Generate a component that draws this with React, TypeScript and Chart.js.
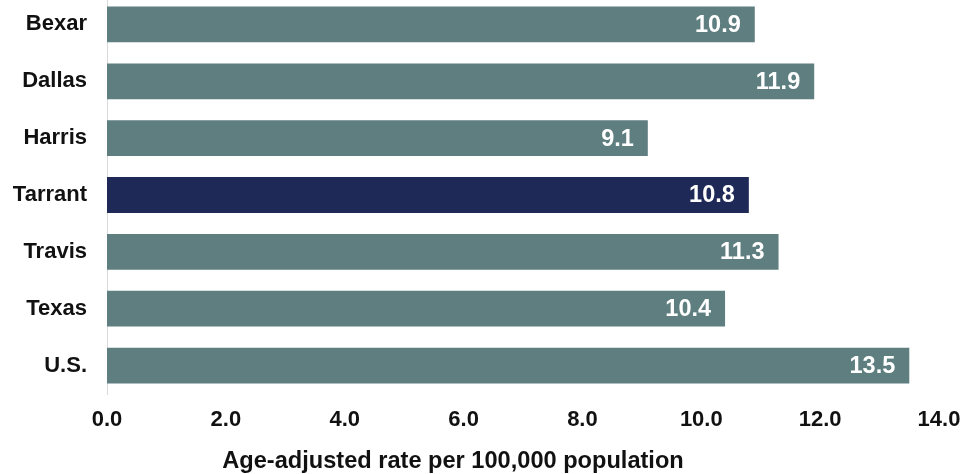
import React, { useEffect, useRef } from "react";
import { Chart, registerables } from "chart.js";

Chart.register(...registerables);

const categories = ["Bexar", "Dallas", "Harris", "Tarrant", "Travis", "Texas", "U.S."];
const rates = [10.9, 11.9, 9.1, 10.8, 11.3, 10.4, 13.5];
const highlighted = "Tarrant";
const xTicks = [0, 2, 4, 6, 8, 10, 12, 14];
const axisTitle = "Age-adjusted rate per 100,000 population";

const BAR_COLOR = "#5e7e7f";
const HIGHLIGHT_COLOR = "#1f2957";
const FONT_FAMILY = "'Liberation Sans', Arial, sans-serif";

// Writes each bar's value in white, right-aligned just inside the bar end.
const valueLabels = {
  id: "valueLabels",
  afterDatasetsDraw(chart: any) {
    const { ctx } = chart;
    const meta = chart.getDatasetMeta(0);
    ctx.save();
    ctx.font = `bold 23.5px ${FONT_FAMILY}`;
    ctx.fillStyle = "#ffffff";
    ctx.textAlign = "right";
    ctx.textBaseline = "middle";
    meta.data.forEach((bar: any, i: number) => {
      ctx.fillText(rates[i].toFixed(1), bar.x - 14, bar.y + 1);
    });
    ctx.restore();
  },
};

// Axis caption under the tick labels.
const axisCaption = {
  id: "axisCaption",
  afterDraw(chart: any) {
    const { ctx } = chart;
    ctx.save();
    ctx.font = `bold 23.6px ${FONT_FAMILY}`;
    ctx.fillStyle = "#111111";
    ctx.textAlign = "center";
    ctx.textBaseline = "middle";
    ctx.fillText(axisTitle, 453, 465);
    ctx.restore();
  },
};

export default function App() {
  const canvasRef = useRef<HTMLCanvasElement | null>(null);

  useEffect(() => {
    if (!canvasRef.current) return;
    const chart = new Chart(canvasRef.current, {
      type: "bar",
      data: {
        labels: categories,
        datasets: [
          {
            data: rates,
            backgroundColor: categories.map((c) => (c === highlighted ? HIGHLIGHT_COLOR : BAR_COLOR)),
            borderWidth: 0,
            categoryPercentage: 1,
            barPercentage: 0.63,
          },
        ],
      },
      options: {
        indexAxis: "y",
        animation: false,
        responsive: false,
        maintainAspectRatio: false,
        layout: { padding: { top: 0, right: 36, bottom: 0, left: 0 } },
        plugins: {
          legend: { display: false },
          tooltip: { enabled: false },
          title: { display: false },
        },
        scales: {
          x: {
            type: "linear",
            min: 0,
            max: 14,
            afterBuildTicks(scale: any) {
              scale.ticks = xTicks.map((v) => ({ value: v }));
            },
            afterFit(scale: any) {
              scale.height = 80;
            },
            grid: { display: false, drawTicks: false },
            border: { display: false },
            ticks: {
              padding: 13,
              color: "#111111",
              font: { family: FONT_FAMILY, size: 22, weight: "bold" },
              callback: (v: any) => Number(v).toFixed(1),
            },
          },
          y: {
            type: "category",
            afterFit(scale: any) {
              scale.width = 107;
              scale.paddingTop = 0;
              scale.paddingBottom = 0;
            },
            grid: { display: false, drawTicks: false },
            border: { display: true, color: "#d9d9d9", width: 1 },
            ticks: {
              padding: 20,
              color: "#111111",
              font: { family: FONT_FAMILY, size: 22, weight: "bold" },
            },
          },
        },
      },
      plugins: [valueLabels, axisCaption],
    });
    return () => chart.destroy();
  }, []);

  return (
    <div style={{ position: "absolute", top: -4, left: 0, width: 975, height: 478, background: "#ffffff" }}>
      <canvas ref={canvasRef} width={975} height={478} style={{ display: "block" }} />
    </div>
  );
}
